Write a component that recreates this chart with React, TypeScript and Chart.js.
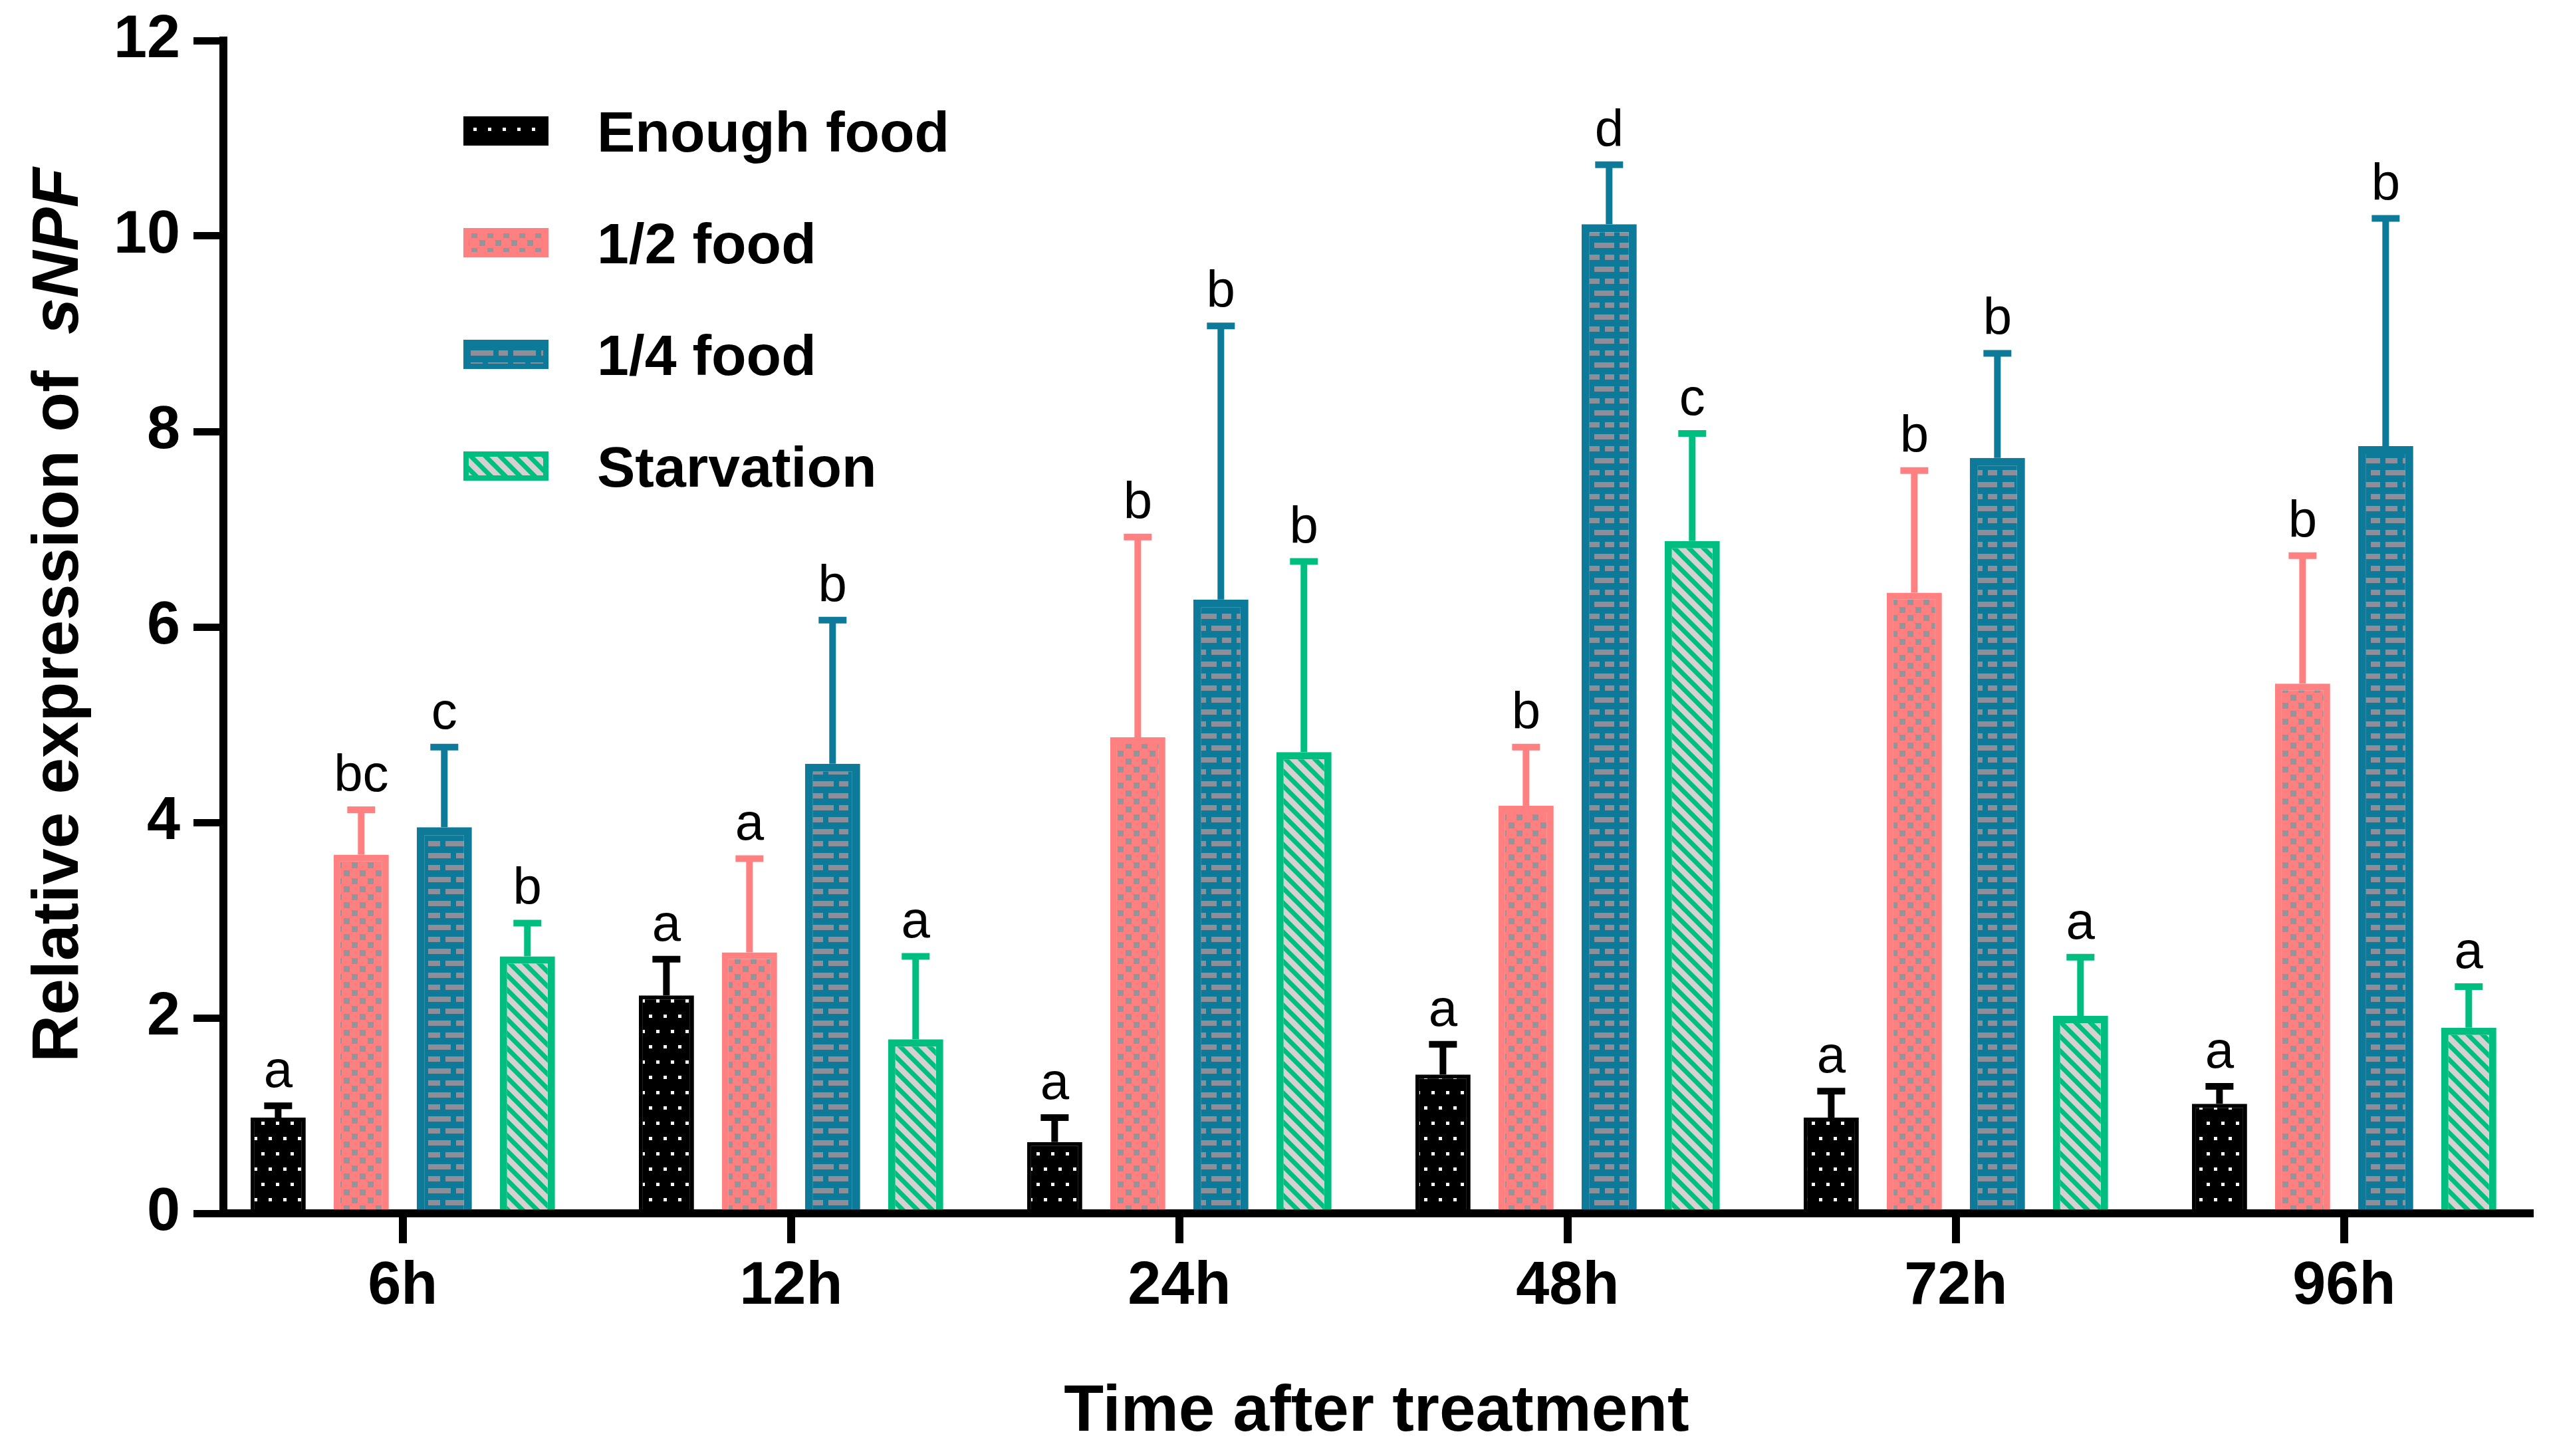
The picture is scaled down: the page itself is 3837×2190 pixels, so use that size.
import React, { useEffect, useRef } from 'react';
import { Chart, registerables } from 'chart.js';

Chart.register(...registerables);

// ---------------- data ----------------
const categories = ['6h', '12h', '24h', '48h', '72h', '96h'];
const seriesNames = ['Enough food', '1/2 food', '1/4 food', 'Starvation'];

const enoughMean = [0.98, 2.23, 0.73, 1.42, 0.98, 1.12];
const halfMean = [3.67, 2.67, 4.87, 4.17, 6.35, 5.42];
const quarterMean = [3.95, 4.6, 6.28, 10.12, 7.73, 7.85];
const starvMean = [2.63, 1.78, 4.72, 6.88, 2.02, 1.9];

const enoughErr = [0.12, 0.37, 0.25, 0.31, 0.27, 0.18];
const halfErr = [0.46, 0.96, 2.05, 0.6, 1.25, 1.31];
const quarterErr = [0.82, 1.47, 2.8, 0.61, 1.07, 2.33];
const starvErr = [0.34, 0.85, 1.95, 1.1, 0.6, 0.42];

const enoughLetters = ['a', 'a', 'a', 'a', 'a', 'a'];
const halfLetters = ['bc', 'a', 'b', 'b', 'b', 'b'];
const quarterLetters = ['c', 'b', 'b', 'd', 'b', 'b'];
const starvLetters = ['b', 'a', 'b', 'c', 'a', 'a'];

const yTicks = [0, 2, 4, 6, 8, 10, 12];

const means = [enoughMean, halfMean, quarterMean, starvMean];
const errs = [enoughErr, halfErr, quarterErr, starvErr];
const letters = [enoughLetters, halfLetters, quarterLetters, starvLetters];

// ---------------- styles ----------------
const W = 3837;
const H = 2190;
const FONT = '"Liberation Sans", Arial, Helvetica, sans-serif';
const BLACK = '#000000';
const PINK = '#FF8080';
const BLUE = '#0E7A99';
const GREEN = '#00BE7F';
const seriesColors = [BLACK, PINK, BLUE, GREEN];
const borderWidths = [6, 10, 12, 11];

function makePattern(w: number, h: number, draw: (c: CanvasRenderingContext2D) => void) {
  const cv = document.createElement('canvas');
  cv.width = w;
  cv.height = h;
  const c = cv.getContext('2d') as CanvasRenderingContext2D;
  draw(c);
  return c.createPattern(cv, 'repeat') as CanvasPattern;
}

function buildPatterns() {
  const dots = makePattern(22, 46, (c) => {
    c.fillStyle = BLACK;
    c.fillRect(0, 0, 22, 46);
    c.fillStyle = '#ffffff';
    c.fillRect(8, 8, 5, 5);
    c.fillRect(19, 31, 5, 5);
    c.fillRect(-3, 31, 5, 5);
  });
  const checks = makePattern(24, 24, (c) => {
    c.fillStyle = PINK;
    c.fillRect(0, 0, 24, 24);
    c.fillStyle = '#8F979E';
    c.fillRect(1, 1, 9, 9);
    c.fillRect(13, 13, 9, 9);
  });
  const bricks = makePattern(64, 36, (c) => {
    c.fillStyle = BLUE;
    c.fillRect(0, 0, 64, 36);
    c.fillStyle = '#8E8E98';
    c.fillRect(4, 5, 18, 8);
    c.fillRect(30, 5, 30, 8);
    c.fillRect(4, 23, 34, 8);
    c.fillRect(46, 23, 14, 8);
  });
  const stripes = makePattern(22, 22, (c) => {
    c.fillStyle = '#D6D1D1';
    c.fillRect(0, 0, 22, 22);
    c.strokeStyle = GREEN;
    c.lineWidth = 7;
    c.beginPath();
    c.moveTo(-11, -11);
    c.lineTo(33, 33);
    c.moveTo(-11, 11);
    c.lineTo(11, 33);
    c.moveTo(11, -11);
    c.lineTo(33, 11);
    c.stroke();
  });
  return [dots, checks, bricks, stripes];
}

// x range so that group centres fall where the reference places them
const X_MIN = -0.462;
const X_MAX = 5.478;

const errorBarPlugin = {
  id: 'errorBarsAndLetters',
  afterDatasetsDraw(chart: any) {
    const ctx: CanvasRenderingContext2D = chart.ctx;
    const ys = chart.scales.y;
    chart.data.datasets.forEach((_ds: any, i: number) => {
      const meta = chart.getDatasetMeta(i);
      meta.data.forEach((bar: any, j: number) => {
        const v = means[i][j];
        const e = errs[i][j];
        const yTop = ys.getPixelForValue(v + e);
        ctx.save();
        ctx.strokeStyle = seriesColors[i];
        ctx.lineWidth = 10;
        ctx.lineCap = 'butt';
        ctx.beginPath();
        ctx.moveTo(bar.x, bar.y);
        ctx.lineTo(bar.x, yTop);
        ctx.moveTo(bar.x - 21, yTop);
        ctx.lineTo(bar.x + 21, yTop);
        ctx.stroke();
        ctx.fillStyle = BLACK;
        ctx.font = `78px ${FONT}`;
        ctx.textAlign = 'center';
        ctx.textBaseline = 'alphabetic';
        ctx.fillText(letters[i][j], bar.x, yTop - 28);
        ctx.restore();
      });
    });
  },
};

const decorPlugin = {
  id: 'decor',
  afterDraw(chart: any) {
    const ctx: CanvasRenderingContext2D = chart.ctx;
    const area = chart.chartArea;
    // legend
    const boxX = 697;
    const boxW = 128;
    const boxH = 44;
    const textX = 898;
    const y0 = 197;
    const step = 168;
    chart.data.datasets.forEach((ds: any, i: number) => {
      const cy = y0 + i * step;
      ctx.save();
      ctx.fillStyle = ds.backgroundColor;
      ctx.fillRect(boxX, cy - boxH / 2, boxW, boxH);
      ctx.strokeStyle = seriesColors[i];
      ctx.lineWidth = 8;
      ctx.strokeRect(boxX + 4, cy - boxH / 2 + 4, boxW - 8, boxH - 8);
      ctx.fillStyle = BLACK;
      ctx.font = `bold 86px ${FONT}`;
      ctx.textAlign = 'left';
      ctx.textBaseline = 'alphabetic';
      ctx.fillText(ds.label, textX, cy + 31);
      ctx.restore();
    });

    // y-axis title with italic gene name
    const part1 = 'Relative expression of  ';
    const part2 = 'sNPF';
    ctx.save();
    ctx.fillStyle = BLACK;
    ctx.textBaseline = 'alphabetic';
    ctx.textAlign = 'left';
    const f1 = `bold 98px ${FONT}`;
    const f2 = `italic bold 98px ${FONT}`;
    ctx.font = f1;
    const w1 = ctx.measureText(part1).width;
    ctx.font = f2;
    const w2 = ctx.measureText(part2).width;
    const total = w1 + w2;
    const cy = (area.top + area.bottom) / 2 - 18;
    ctx.translate(117, cy);
    ctx.rotate(-Math.PI / 2);
    ctx.font = f1;
    ctx.fillText(part1, -total / 2, 0);
    ctx.font = f2;
    ctx.fillText(part2, -total / 2 + w1, 0);
    ctx.restore();

    // x-axis title
    ctx.save();
    ctx.fillStyle = BLACK;
    ctx.font = `bold 98px ${FONT}`;
    ctx.textAlign = 'center';
    ctx.textBaseline = 'alphabetic';
    ctx.fillText('Time after treatment', (area.left + area.right) / 2, 2152);
    ctx.restore();
  },
};

export default function App() {
  const canvasRef = useRef<HTMLCanvasElement | null>(null);

  useEffect(() => {
    document.body.style.margin = '0';
    document.body.style.overflow = 'hidden';
    const canvas = canvasRef.current;
    if (!canvas) return;
    const patterns = buildPatterns();

    const datasets = seriesNames.map((name, i) => ({
      label: name,
      data: means[i].map((v, j) => ({ x: j, y: v })),
      backgroundColor: patterns[i],
      borderColor: seriesColors[i],
      borderWidth: borderWidths[i],
      borderSkipped: 'start' as const,
      categoryPercentage: 0.856,
      barPercentage: 0.664,
    }));

    const chart = new Chart(canvas, {
      type: 'bar',
      data: { datasets },
      options: {
        animation: false,
        responsive: false,
        devicePixelRatio: 1,
        layout: { padding: { top: 61, right: 32, left: 0, bottom: 0 } },
        plugins: {
          legend: { display: false },
          tooltip: { enabled: false },
          title: { display: false },
        },
        scales: {
          x: {
            type: 'linear',
            min: X_MIN,
            max: X_MAX,
            offset: false,
            afterBuildTicks: (s: any) => {
              s.ticks = categories.map((_c, i) => ({ value: i }));
            },
            afterFit: (s: any) => {
              s.height = H - 1825;
              s.paddingLeft = 0;
              s.paddingRight = 0;
            },
            ticks: {
              autoSkip: false,
              maxRotation: 0,
              padding: 12,
              color: BLACK,
              font: { family: FONT, size: 90, weight: 'bold' },
              callback: (v: any) => categories[v] ?? '',
            },
            grid: {
              offset: false,
              drawOnChartArea: false,
              drawTicks: true,
              tickLength: 45,
              lineWidth: 12,
              color: BLACK,
            },
            border: { display: true, width: 12, color: BLACK },
          },
          y: {
            min: 0,
            max: 12,
            afterBuildTicks: (s: any) => {
              s.ticks = yTicks.map((v) => ({ value: v }));
            },
            afterFit: (s: any) => {
              s.width = 336;
              s.paddingTop = 0;
              s.paddingBottom = 0;
            },
            ticks: {
              padding: 20,
              color: BLACK,
              font: { family: FONT, size: 90, weight: 'bold' },
            },
            grid: {
              drawOnChartArea: false,
              drawTicks: true,
              tickLength: 45,
              lineWidth: 11,
              color: BLACK,
            },
            border: { display: true, width: 12, color: BLACK },
          },
        },
      } as any,
      plugins: [errorBarPlugin, decorPlugin],
    });

    return () => {
      chart.destroy();
    };
  }, []);

  return (
    <div style={{ width: W, height: H, background: '#ffffff' }}>
      <canvas ref={canvasRef} width={W} height={H} style={{ display: 'block' }} />
    </div>
  );
}
